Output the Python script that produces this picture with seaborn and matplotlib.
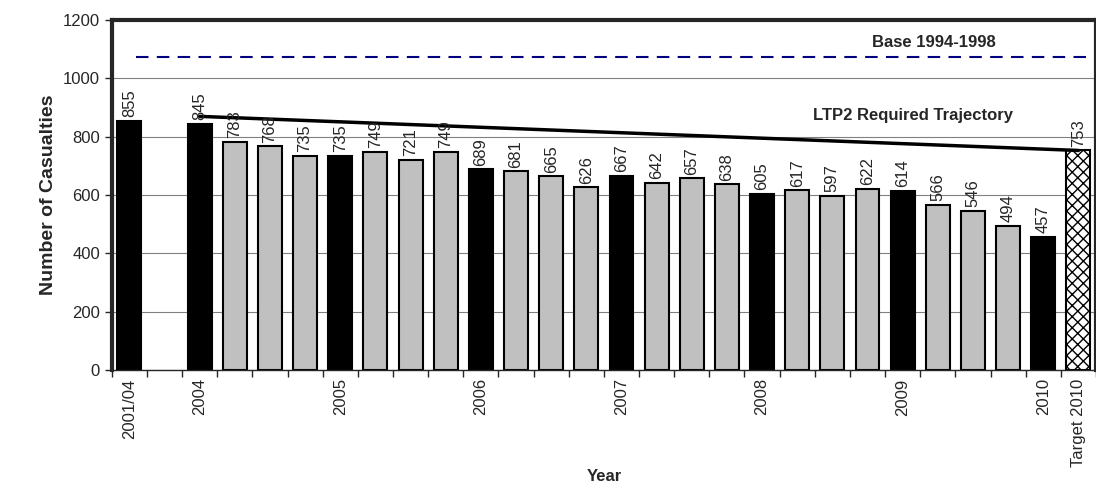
import numpy as np
import pandas as pd
import matplotlib
matplotlib.use("Agg")
import matplotlib.pyplot as plt
import seaborn as sb

values = [855, np.nan, 845, 783, 768, 735, 735, 749, 721, 749, 689, 681, 665, 626,
          667, 642, 657, 638, 605, 617, 597, 622, 614, 566, 546, 494, 457, 753]
kinds = ['year', 'gap', 'year', 'q', 'q', 'q', 'year', 'q', 'q', 'q', 'year', 'q', 'q', 'q',
         'year', 'q', 'q', 'q', 'year', 'q', 'q', 'q', 'year', 'q', 'q', 'q', 'year', 'target']
tick_labels = {0: '2001/04', 2: '2004', 6: '2005', 10: '2006', 14: '2007',
               18: '2008', 22: '2009', 26: '2010', 27: 'Target 2010'}
base_level = 1075
trajectory = [870, 753]   # from 2004 to target 2010

sb.set_style("white")
plt.rcParams['font.family'] = ['Liberation Sans', 'DejaVu Sans']
plt.rcParams['hatch.linewidth'] = 1.0

df = pd.DataFrame({'slot': range(len(values)), 'value': values, 'kind': kinds})
colors = {'year': 'black', 'gap': 'white', 'q': '#c0c0c0', 'target': 'white'}

fig = plt.figure(figsize=(10.96, 4.92), dpi=100)
ax = fig.add_axes([0.102, 0.248, 0.898, 0.711])
sb.barplot(data=df, x='slot', y='value', hue='kind', palette=colors, dodge=False,
           width=0.68, edgecolor='black', linewidth=1.5, legend=False, ax=ax)
for p in ax.patches:
    cx = p.get_x() + p.get_width() / 2
    if abs(cx - 27) < 0.3 and p.get_height() > 0:
        p.set_hatch('xxx')

for i, v in enumerate(values):
    if not np.isnan(v):
        ax.text(i, v + 12, str(int(v)), rotation=90, ha='center', va='bottom', fontsize=12)

ax.plot([0.2, 27.6], [base_level, base_level], color='#000080', ls=(0, (6, 4)), lw=1.5)
ax.text(22.9, 1124, 'Base 1994-1998', ha='center', va='center', fontsize=12, fontweight='bold')
ax.plot([2, 27], trajectory, color='black', lw=2.5)
ax.text(22.3, 874, 'LTP2 Required Trajectory', ha='center', va='center', fontsize=12, fontweight='bold')

ax.set_xlim(-0.5, 27.5)
ax.set_ylim(0, 1200)
ax.set_yticks(range(0, 1201, 200))
ax.yaxis.grid(True, color='#808080', lw=0.8)
ax.set_axisbelow(True)
ax.set_xticks(list(tick_labels.keys()))
ax.set_xticklabels(list(tick_labels.values()), rotation=90, fontsize=12)
ax.set_xticks(np.arange(-0.5, 28, 1), minor=True)
ax.tick_params(axis='x', which='major', length=0, pad=6)
ax.tick_params(axis='x', which='minor', length=5, width=1, direction='out')
ax.tick_params(axis='y', length=5, width=1, direction='out', labelsize=12)
ax.tick_params(bottom=True, left=True, which='both')
for s in ['top', 'right', 'left']:
    ax.spines[s].set_linewidth(3)
ax.spines['bottom'].set_linewidth(1)
ax.set_xlabel('Year', fontsize=12, fontweight='bold', labelpad=2)
ax.set_ylabel('Number of Casualties', fontsize=14, fontweight='bold')

fig.savefig('out.png')
